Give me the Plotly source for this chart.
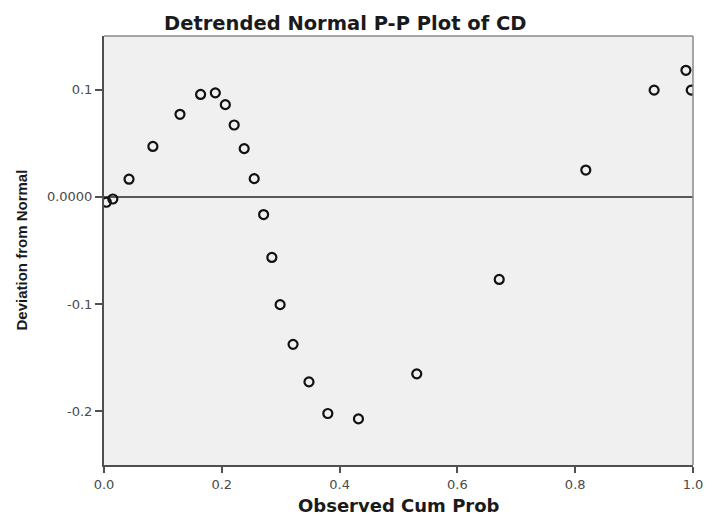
import plotly.graph_objects as go

# Data
cum_prob = [0.004, 0.015, 0.0425, 0.083, 0.129, 0.164, 0.189, 0.206, 0.221, 0.238,
            0.255, 0.271, 0.285, 0.299, 0.321, 0.348, 0.380, 0.432, 0.531, 0.671,
            0.818, 0.934, 0.988, 0.997]
deviation = [-0.005, -0.002, 0.0165, 0.047, 0.077, 0.0955, 0.097, 0.086, 0.067, 0.045,
             0.017, -0.0165, -0.0565, -0.1005, -0.1375, -0.1725, -0.202, -0.207, -0.165, -0.077,
             0.025, 0.0995, 0.118, 0.0995]

x_ticks = [0.0, 0.2, 0.4, 0.6, 0.8, 1.0]
x_ticktext = ["0.0", "0.2", "0.4", "0.6", "0.8", "1.0"]
y_ticks = [0.1, 0.0, -0.1, -0.2]
y_ticktext = ["0.1", "0.0000", "-0.1", "-0.2"]

title_text = "Detrended Normal P-P Plot of CD"
x_title = "Observed Cum Prob"
y_title = "Deviation from Normal"

W, H = 707, 518
L, R, T, B = 104, 14, 36, 53

fig = go.Figure()
fig.add_trace(go.Scatter(
    x=cum_prob, y=deviation, mode="markers",
    marker=dict(symbol="circle-open", size=9, color="#111111",
                line=dict(width=2.2, color="#111111")),
    cliponaxis=True, showlegend=False,
))

axis_font = dict(family="DejaVu Sans", size=13, color="#4a4a4a")

fig.update_layout(
    width=W, height=H,
    margin=dict(l=L, r=R, t=T, b=B, autoexpand=False),
    paper_bgcolor="white",
    plot_bgcolor="#f0f0f0",
    xaxis=dict(range=[0, 1], tickvals=x_ticks, ticktext=x_ticktext, automargin=False,
               showgrid=False, zeroline=False, showline=True,
               linecolor="#505050", linewidth=2, ticks="outside", ticklen=6,
               tickwidth=2, tickcolor="#505050", tickfont=axis_font),
    yaxis=dict(range=[-0.25, 0.15], tickvals=y_ticks, ticktext=y_ticktext, automargin=False,
               showgrid=False, zeroline=True, zerolinecolor="#5a5a5a", zerolinewidth=1.6,
               showline=True, linecolor="#505050", linewidth=2, ticks="outside",
               ticklen=7, tickwidth=1.5, tickcolor="#505050", tickfont=axis_font),
    shapes=[
        dict(type="line", xref="paper", yref="paper", x0=0, x1=1, y0=1, y1=1,
             line=dict(color="#8a8a8a", width=1.5), layer="above"),
        dict(type="line", xref="paper", yref="paper", x0=1, x1=1, y0=0, y1=1,
             line=dict(color="#8a8a8a", width=1.5), layer="above"),
    ],
    annotations=[
        dict(text=title_text, xref="paper", yref="paper",
             x=(345 - L) / (W - L - R), y=1 + (T - 23) / (H - T - B),
             xanchor="center", yanchor="middle", showarrow=False,
             font=dict(family="DejaVu Sans", size=19.5, color="#1a1a1a", weight="bold")),
        dict(text=x_title, xref="paper", yref="paper",
             x=(399 - L) / (W - L - R), y=-(505 - (H - B)) / (H - T - B),
             xanchor="center", yanchor="middle", showarrow=False,
             font=dict(family="DejaVu Sans", size=18, color="#1a1a1a", weight="bold")),
        dict(text=y_title, xref="paper", yref="paper", textangle=-90,
             x=-(L - 21) / (W - L - R), y=0.5,
             xanchor="center", yanchor="middle", showarrow=False,
             font=dict(family="Liberation Sans", size=15, color="#1a1a1a", weight="bold")),
    ],
)

fig.write_html("out.html")
